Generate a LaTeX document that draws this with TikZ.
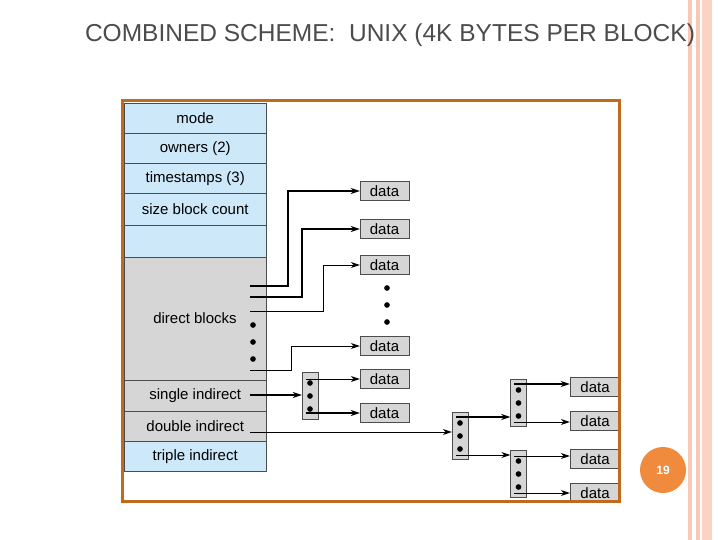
\documentclass[tikz,border=0pt]{standalone}
\usepackage{fontspec}
\setmainfont{Liberation Sans}
\usetikzlibrary{positioning,arrows.meta}
\definecolor{inodeblue}{HTML}{CDE8F8}
\definecolor{inodegray}{HTML}{D6D6D6}
\definecolor{frameorange}{HTML}{C06A1E}
\definecolor{slideorange}{HTML}{F08A3C}
\definecolor{stripe}{HTML}{F9C8B4}
\tikzset{
	row/.style={draw=black!70,minimum width=142pt,anchor=north west,inner sep=0pt,font=\fontsize{15pt}{17pt}\selectfont},
	datablk/.style={draw=black!70,fill=inodegray,minimum width=49pt,minimum height=19pt,inner sep=0pt,font=\fontsize{15pt}{17pt}\selectfont},
	idxblk/.style={draw=black!70,fill=inodegray,minimum width=16pt,minimum height=47pt,inner sep=0pt},
	ptr/.style={-{Stealth[length=9pt,width=6pt]},line width=1pt},
	bptr/.style={ptr,line width=1.7pt},
	bdot/.style={circle,fill=black,inner sep=2pt},
}
\begin{document}
\begin{tikzpicture}[x=1pt,y=-1pt]
	\useasboundingbox (0,0) rectangle (720,540);
	%slide decoration
	\fill[stripe] (688,0) rectangle (692,540);
	\fill[stripe] (696,0) rectangle (700,540);
	\fill[stripe!80] (702,0) rectangle (712,540);
	\node[text=black!70,font=\fontsize{24.5pt}{28pt}\selectfont] (title) at (390,35) {COMBINED SCHEME:\ \ UNIX (4K BYTES PER BLOCK)};
	
	%inode
	\node[row,fill=inodeblue,minimum height=30pt] (mode) at (124,103) {mode};
	\node[row,fill=inodeblue,minimum height=30pt] (owners) at (124,133) {owners (2)};
	\node[row,fill=inodeblue,minimum height=30pt] (stamps) at (124,163) {timestamps (3)};
	\node[row,fill=inodeblue,minimum height=32pt] (size) at (124,193) {size block count};
	\node[row,fill=inodeblue,minimum height=32pt] (blank) at (124,225) {};
	\node[row,fill=inodegray,minimum height=123pt] (direct) at (124,257) {};
	\node[font=\fontsize{15pt}{17pt}\selectfont] (dlabel) at (195,318) {direct blocks};
	\node[row,fill=inodegray,minimum height=31pt] (single) at (124,380) {single indirect};
	\node[row,fill=inodegray,minimum height=30pt] (double) at (124,411) {double indirect};
	\node[row,fill=inodeblue,minimum height=30pt] (triple) at (124,441) {triple indirect};
	\foreach \y in {325,342,359} \node[bdot] at (253,\y) {};
	
	%direct data blocks
	\node[datablk] (d1) at (384.5,191) {data};
	\node[datablk] (d2) at (384.5,229) {data};
	\node[datablk] (d3) at (384.5,265) {data};
	\node[datablk] (d4) at (384.5,346) {data};
	\foreach \y in {288,305,322} \node[bdot] at (387,\y) {};
	\coordinate (p1) at (250,286);
	\coordinate (p2) at (250,297);
	\coordinate (p3) at (250,311);
	\coordinate (p4) at (250,370);
	\draw[bptr] (p1) -| (288,191) -- (d1.west);
	\draw[bptr] (p2) -| (302,229) -- (d2.west);
	\draw[ptr] (p3) -| (323,265) -- (d3.west);
	\draw[ptr] (p4) -| (291,346) -- (d4.west);
	
	%single indirect
	\node[idxblk] (i1) at (310,395.5) {};
	\foreach \y in {383,396,409} \node[bdot] at (310,\y) {};
	\node[datablk] (s1) at (384.5,379) {data};
	\node[datablk] (s2) at (384.5,413) {data};
	\draw[bptr] (250,395) -- (i1.west |- 0,395);
	\draw[ptr] (306,379) -- (s1.west);
	\draw[bptr] (306,413) -- (s2.west);
	
	%double indirect
	\node[idxblk] (i2) at (460,435.5) {};
	\foreach \y in {423,436,449} \node[bdot] at (460,\y) {};
	\node[idxblk] (i3) at (518.5,402.5) {};
	\foreach \y in {390,403,416} \node[bdot] at (518.5,\y) {};
	\node[idxblk] (i4) at (518.5,473.5) {};
	\foreach \y in {461,474,487} \node[bdot] at (518.5,\y) {};
	\draw[ptr] (250,432) -- (i2.west |- 0,432);
	\draw[bptr] (456,417) -- (i3.west |- 0,417);
	\draw[ptr] (456,455) -- (i4.west |- 0,455);
	\begin{scope}
		\clip (0,0) rectangle (618,500);
		\node[datablk,minimum width=50pt] (t1) at (595,387) {data};
		\node[datablk,minimum width=50pt] (t2) at (595,421) {data};
		\node[datablk,minimum width=50pt] (t3) at (595,459) {data};
		\node[datablk,minimum width=50pt] (t4) at (595,493) {data};
	\end{scope}
	\draw[bptr] (514,384) -- (t1.west |- 0,384);
	\draw[ptr] (514,422) -- (t2.west |- 0,422);
	\draw[ptr] (514,456) -- (t3.west |- 0,456);
	\draw[ptr] (514,493) -- (t4.west |- 0,493);
	
	%frame & page number
	\draw[frameorange,line width=3pt] (122,101) rectangle (619,501);
	\node[circle,fill=slideorange,minimum size=46pt,text=white,font=\bfseries\fontsize{12pt}{14pt}\selectfont] (page) at (663,470) {19};
\end{tikzpicture}
\end{document}
